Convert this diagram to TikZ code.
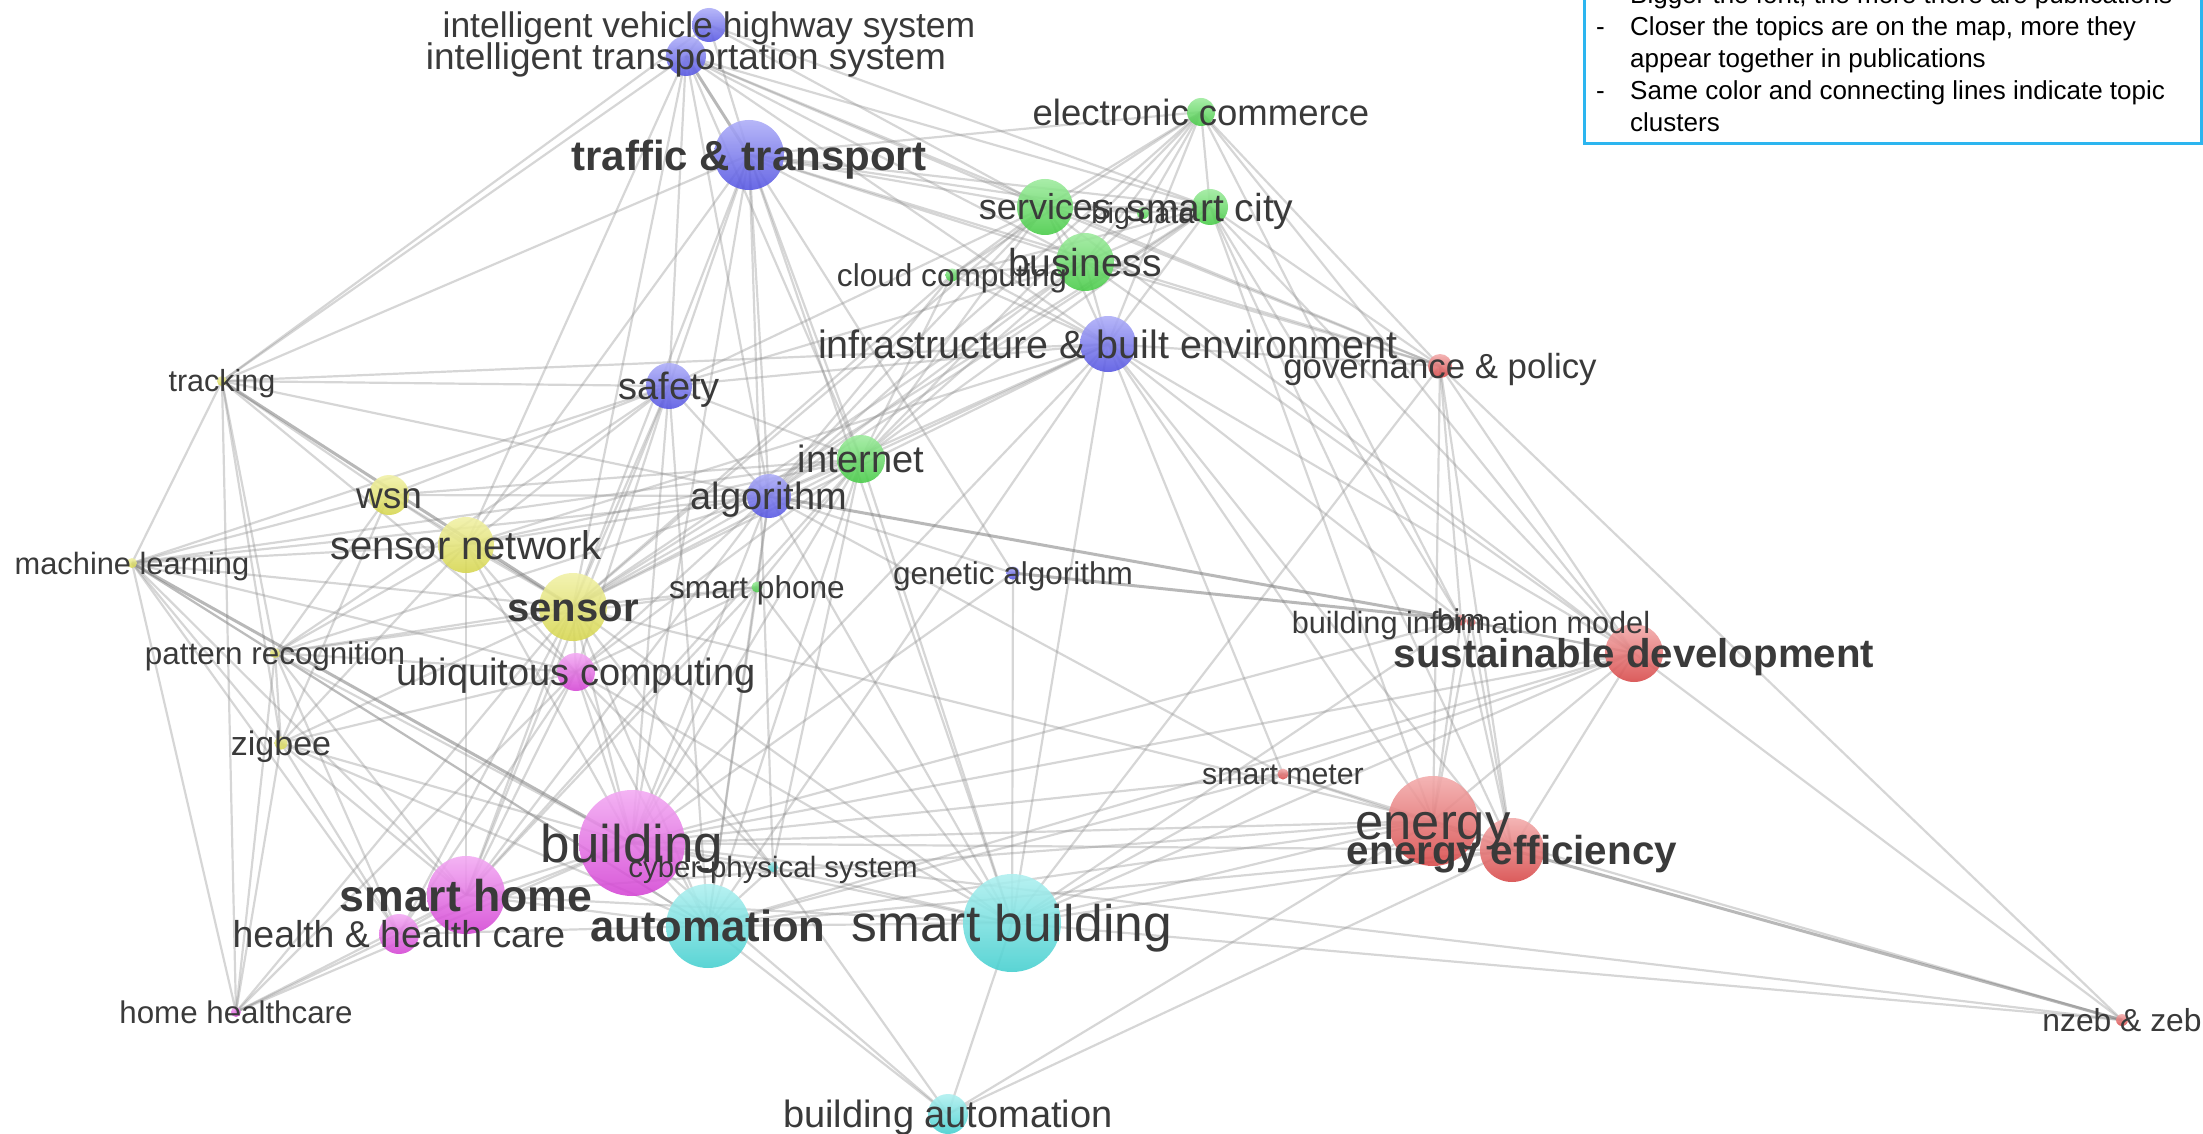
\documentclass[tikz,border=0pt]{standalone}
\usepackage{fontspec}
\setmainfont{Liberation Sans}
\pgfdeclarelayer{edges}
\pgfdeclarelayer{labels}
\pgfsetlayers{edges,main,labels}
\definecolor{bluL}{HTML}{ADADF8}\definecolor{bluD}{HTML}{5454E2}
\definecolor{grnL}{HTML}{9DEB9D}\definecolor{grnD}{HTML}{46CB46}
\definecolor{yelL}{HTML}{F1F1A6}\definecolor{yelD}{HTML}{D6D64E}
\definecolor{magL}{HTML}{F3AAF3}\definecolor{magD}{HTML}{D443D4}
\definecolor{cyaL}{HTML}{AFF0F0}\definecolor{cyaD}{HTML}{43CFCF}
\definecolor{redL}{HTML}{F3ABAB}\definecolor{redD}{HTML}{D74646}
\definecolor{txt}{HTML}{3A3A3A}
\definecolor{legblue}{HTML}{2CB5EF}
\tikzset{
  bub/.style={circle,inner sep=0pt,outer sep=0pt,draw=none,top color=#1L,bottom color=#1D,opacity=0.88},
  lab/.style={anchor=base,inner sep=0pt,outer sep=0pt,text=txt},
  edge/.style={draw=black!45,line width=2.2pt,opacity=0.35},
  heavy/.style={draw=black!55,line width=3pt,opacity=0.5},
  legtext/.style={anchor=base west,inner sep=0pt,font=\fontsize{26pt}{26pt}\selectfont,text=black}
}
% name, x, y, diameter, colour, font size, weight, text
\newcommand\kwnode[8]{%
  \node[bub=#5,minimum size=#4pt] (#1) at (#2,#3) {};
  \begin{pgfonlayer}{labels}
  \node[lab,font=\fontsize{#6pt}{#6pt}\selectfont#7,yshift={-0.36*#6pt}] (#1-t) at (#1.center) {#8};
  \end{pgfonlayer}}
\begin{document}
\begin{tikzpicture}[x=1pt,y=-1pt]
\useasboundingbox (0,0) rectangle (2203,1134);
% topics
\kwnode{ivhs}{709}{25}{34}{blu}{35.5}{}{intelligent vehicle highway system}
\kwnode{its}{686}{56}{40}{blu}{37}{}{intelligent transportation system}
\kwnode{tt}{749}{155}{70}{blu}{42}{\bfseries}{traffic \& transport}
\kwnode{ec}{1201}{112}{28}{grn}{36.5}{}{electronic commerce}
\kwnode{serv}{1045}{207}{56}{grn}{36}{}{services}
\kwnode{sc}{1210}{207}{36}{grn}{39}{}{smart city}
\kwnode{bd}{1143}{213}{12}{grn}{29}{}{big data}
\kwnode{bus}{1085}{262}{58}{grn}{39}{}{business}
\kwnode{cc}{952}{275}{13}{grn}{31.6}{}{cloud computing}
\kwnode{ibe}{1108}{344}{56}{blu}{39.5}{}{infrastructure \& built environment}
\kwnode{gov}{1440}{366}{24}{red}{34.8}{}{governance \& policy}
\kwnode{trk}{222}{381}{10}{yel}{30.5}{}{tracking}
\kwnode{saf}{669}{386}{46}{blu}{38}{}{safety}
\kwnode{wsn}{389}{495}{40}{yel}{37}{}{wsn}
\kwnode{int}{861}{459}{48}{grn}{38}{}{internet}
\kwnode{alg}{769}{496}{44}{blu}{38}{}{algorithm}
\kwnode{sn}{466}{545}{56}{yel}{40}{}{sensor network}
\kwnode{ml}{132}{563}{10}{yel}{30.8}{}{machine learning}
\kwnode{sen}{573}{607}{68}{yel}{40}{\bfseries}{sensor}
\kwnode{sp}{757}{587}{11}{grn}{31.6}{}{smart phone}
\kwnode{ga}{1013}{573}{13}{blu}{31.5}{}{genetic algorithm}
\kwnode{bimod}{1471}{622}{9}{red}{30.7}{}{building information model}
\kwnode{bim}{1461}{620}{11}{red}{30}{}{bim}
\kwnode{sd}{1634}{653}{58}{red}{40.2}{\bfseries}{sustainable development}
\kwnode{pr}{275}{653}{10}{yel}{31.4}{}{pattern recognition}
\kwnode{ubi}{576}{672}{38}{mag}{38}{}{ubiquitous computing}
\kwnode{zig}{281}{743}{13}{yel}{34}{}{zigbee}
\kwnode{sm}{1283}{774}{11}{red}{30.3}{}{smart meter}
\kwnode{bldg}{632}{843}{106}{mag}{53}{}{building}
\kwnode{en}{1433}{821}{90}{red}{50.6}{}{energy}
\kwnode{ee}{1512}{850}{64}{red}{40.4}{\bfseries}{energy efficiency}
\kwnode{sh}{466}{895}{78}{mag}{44.6}{\bfseries}{smart home}
\kwnode{hhc}{399}{934}{40}{mag}{37.4}{}{health \& health care}
\kwnode{aut}{708}{926}{84}{cya}{43.6}{\bfseries}{automation}
\kwnode{sb}{1012}{923}{98}{cya}{51.5}{}{smart building}
\kwnode{cps}{773}{867}{10}{cya}{29.4}{}{cyber-physical system}
\kwnode{hh}{236}{1012}{10}{mag}{31.3}{}{home healthcare}
\kwnode{nzeb}{2122}{1020}{12}{red}{31.8}{}{nzeb \& zeb}
\kwnode{ba}{948}{1114}{40}{cya}{38}{}{building automation}
% connectors
\begin{pgfonlayer}{edges}
\fill[white] (0,0) rectangle (2203,1134);
\foreach \a/\b in {its/ivhs,its/trk,its/saf,its/alg,its/sen,its/serv,its/sc,its/bus,its/ibe,its/gov,its/int,its/sn,
 ivhs/tt,ivhs/serv,ivhs/sc,ivhs/trk,
 tt/ec,tt/serv,tt/sc,tt/bus,tt/ibe,tt/gov,tt/saf,tt/alg,tt/int,tt/sen,tt/trk,tt/sn,tt/ga,tt/cps,tt/bldg,tt/sb,tt/bd,
 ec/serv,ec/sc,ec/bus,ec/bd,ec/cc,ec/ibe,ec/gov,ec/int,ec/sd,ec/bim,ec/alg,
 serv/sc,serv/bd,serv/bus,serv/cc,serv/ibe,serv/gov,serv/int,serv/alg,serv/saf,serv/sd,serv/sen,
 sc/bus,sc/bd,sc/ibe,sc/gov,sc/int,sc/sd,sc/bim,sc/en,sc/ee,sc/cc,sc/alg,sc/sen,
 bus/ibe,bus/cc,bus/int,bus/gov,bus/sd,bus/alg,bus/saf,bus/sen,bus/bd,
 cc/int,cc/ibe,cc/sen,cc/alg,
 ibe/gov,ibe/int,ibe/alg,ibe/saf,ibe/trk,ibe/sd,ibe/en,ibe/ee,ibe/sm,ibe/bim,ibe/sen,ibe/sn,ibe/bldg,ibe/sb,ibe/aut,
 gov/bim,gov/sd,gov/en,gov/ee,gov/nzeb,gov/sb,
 trk/saf,trk/wsn,trk/ml,trk/pr,trk/hh,trk/ubi,trk/zig,trk/alg,
 saf/alg,saf/sen,saf/sn,saf/wsn,saf/int,saf/ubi,saf/bldg,saf/sh,saf/aut,saf/pr,saf/ml,
 wsn/sn,wsn/sen,wsn/alg,wsn/ml,wsn/int,wsn/zig,wsn/pr,
 int/alg,int/sen,int/sn,int/ubi,int/sp,int/bldg,int/sh,int/cps,int/sb,int/aut,int/ml,
 alg/sn,alg/sen,alg/sp,alg/ga,alg/ubi,alg/bldg,alg/sh,alg/aut,alg/sb,alg/ml,alg/pr,
 sn/sen,sn/ml,sn/pr,sn/zig,sn/ubi,sn/sh,sn/bldg,
 ml/sen,ml/pr,ml/zig,ml/ubi,ml/sh,ml/hhc,ml/hh,ml/aut,
 sen/ubi,sen/sp,sen/pr,sen/zig,sen/bldg,sen/sh,sen/hhc,sen/aut,sen/sb,sen/cps,sen/en,sen/hh,
 sp/ubi,sp/bldg,sp/sh,sp/aut,sp/sb,sp/pr,
 ga/bldg,ga/sb,
 bim/sd,bim/en,bim/ee,bim/sb,bim/bldg,bimod/en,bimod/ee,bimod/sd,
 sd/en,sd/ee,sd/sb,sd/nzeb,sd/sm,sd/bldg,sd/aut,
 pr/ubi,pr/sh,pr/hhc,pr/bldg,pr/zig,pr/hh,pr/aut,
 ubi/bldg,ubi/sh,ubi/hhc,ubi/aut,ubi/zig,ubi/hh,ubi/sb,ubi/cps,
 zig/sh,zig/bldg,zig/hh,zig/hhc,zig/aut,
 sm/en,sm/ee,sm/sb,sm/bldg,sm/aut,sm/alg,
 bldg/sh,bldg/aut,bldg/sb,bldg/cps,bldg/en,bldg/ee,bldg/hhc,bldg/ba,bldg/nzeb,bldg/hh,
 cps/aut,cps/sb,cps/ba,
 en/ee,en/sb,en/aut,en/nzeb,en/ba,
 ee/sb,ee/aut,ee/ba,
 sh/hhc,sh/aut,sh/hh,sh/sb,sh/en,
 hhc/hh,hhc/aut,
 aut/sb,aut/ba,
 sb/ba,sb/nzeb}
  \draw[edge] (\a.center) -- (\b.center);
\foreach \a/\b in {trk/sen,alg/bim,ga/bim,ee/nzeb,its/tt,ml/bldg}
  \draw[heavy] (\a.center) -- (\b.center);
\end{pgfonlayer}
% legend
\node[draw=legblue,line width=3pt,fill=white,minimum width=617pt,minimum height=175pt,anchor=south west,inner sep=0pt] (legend) at (1583,145) {};
\node[legtext] (d1) at (1596,4) {-};
\node[legtext] (l1) at (1630,4) {Bigger the font, the more there are publications};
\node[legtext] (d2) at (1596,36) {-};
\node[legtext] (l2) at (1630,36) {Closer the topics are on the map, more they};
\node[legtext] (l3) at (1630,68) {appear together in publications};
\node[legtext] (d4) at (1596,100) {-};
\node[legtext] (l4) at (1630,100) {Same color and connecting lines indicate topic};
\node[legtext] (l5) at (1630,132) {clusters};
\end{tikzpicture}
\end{document}
